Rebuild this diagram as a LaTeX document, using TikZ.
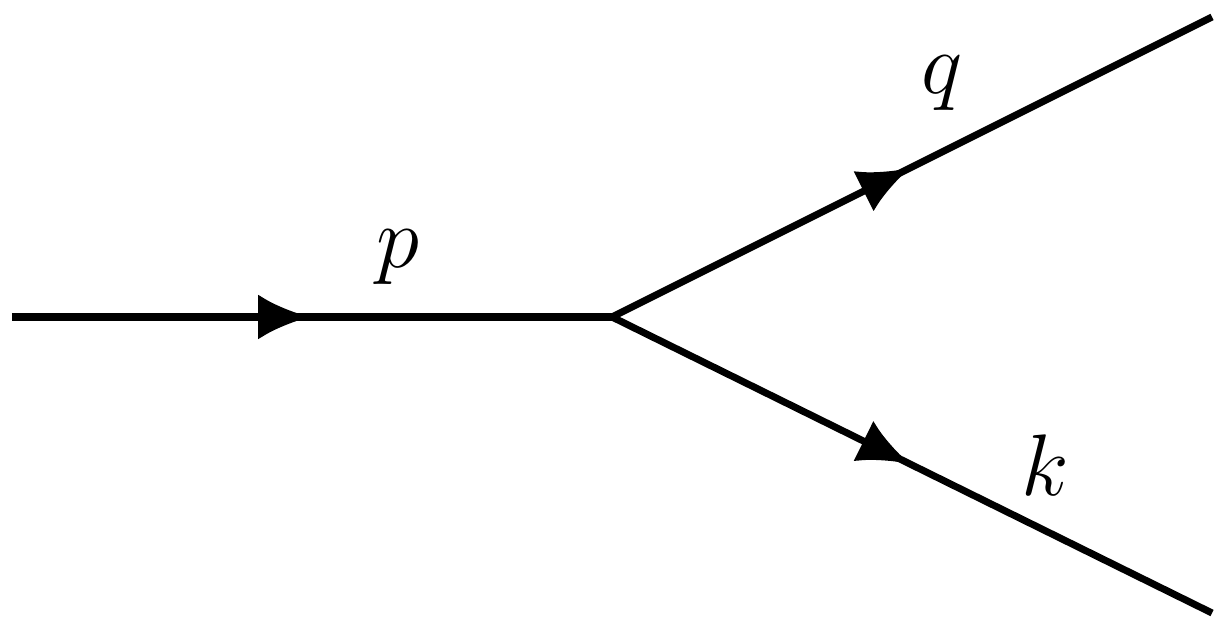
\documentclass[tikz,border=0pt]{standalone}
\usetikzlibrary{arrows.meta,decorations.markings}
\begin{document}
\begin{tikzpicture}[
  fermion/.style={line width=2pt, postaction={decorate},
    decoration={markings, mark=at position 0.497 with {\arrow{Latex[length=0.52cm,width=0.45cm]}}}},
  lbl/.style={font=\fontsize{24.6}{30}\selectfont}
]
\useasboundingbox (0,0) rectangle (12.28,6.30);
\coordinate (a) at (0.12,3.13);
\coordinate (v) at (6.12,3.13);
\coordinate (b) at (12.12,6.13);
\coordinate (c) at (12.12,0.17);
\draw[fermion] (a) -- (v);
\draw[fermion] (v) -- (b);
\draw[fermion] (v) -- (c);
\node[lbl] (lp) at (3.98,3.73) {$p$};
\node[lbl] (lq) at (9.42,5.47) {$q$};
\node[lbl] (lk) at (10.45,1.65) {$k$};
\end{tikzpicture}
\end{document}
